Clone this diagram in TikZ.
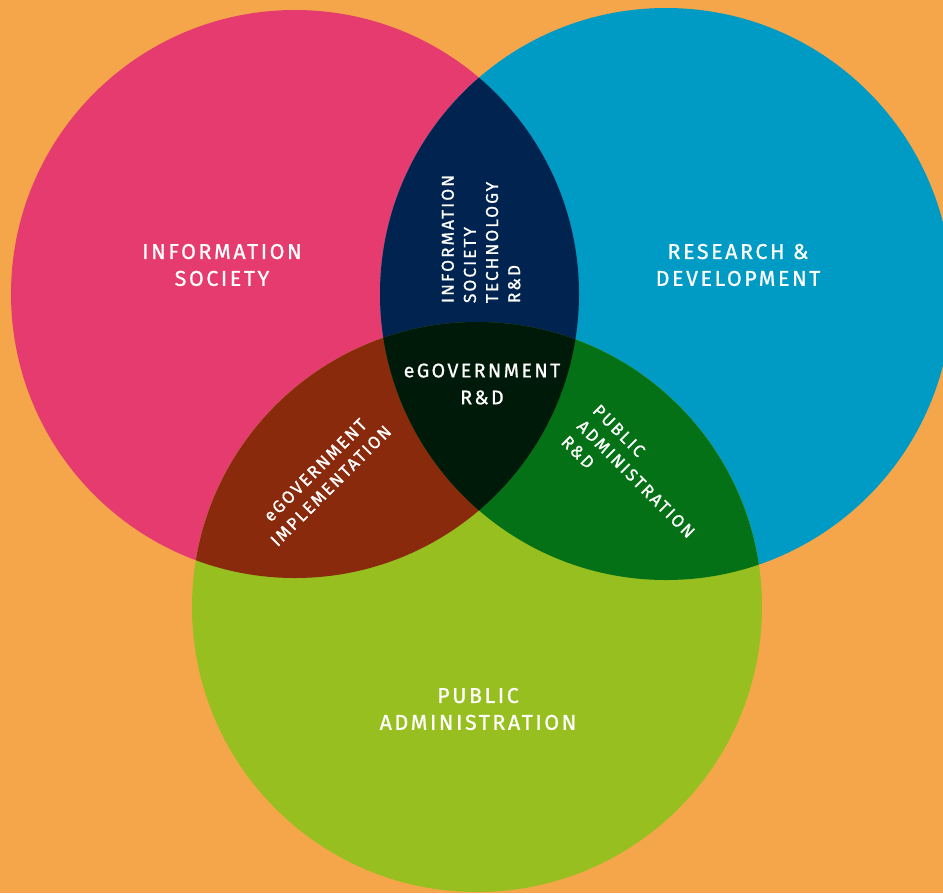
\documentclass[tikz,border=0pt]{standalone}
\usepackage{fontspec}
\usepackage{tikz}
\usepackage{xcolor}
\newfontfamily\vennfont[LetterSpace=12, FakeBold=0.9]{Fira Sans}
\definecolor{bgorange}{HTML}{F5A64A}
\definecolor{infpink}{HTML}{E63B6F}
\definecolor{resblue}{HTML}{009BC4}
\definecolor{pubgreen}{HTML}{97BF1F}
\definecolor{istnavy}{HTML}{00244F}
\definecolor{implbrown}{HTML}{8A2A0D}
\definecolor{padgreen}{HTML}{047116}
\definecolor{egovdark}{HTML}{001A0A}
\tikzset{
  lbl/.style={text=white, font=\vennfont\fontsize{12.2}{15.3}\selectfont, align=center, inner sep=0pt},
  smalllbl/.style={lbl, font=\vennfont\fontsize{9.8}{12.6}\selectfont},
}

\begin{document}
\begin{tikzpicture}[x=0.02cm, y=-0.02cm]
% Three-set Venn diagram, pixel coordinates
\fill[bgorange] (0,0) rectangle (943,893);
\useasboundingbox (0,0) rectangle (943,893);
\clip (0,0) rectangle (943,893);

\coordinate (cinf) at (295,294);
\coordinate (cres) at (666,294);
\coordinate (cpub) at (477,607);

\fill[infpink] (cinf) circle[radius=284];
\fill[resblue] (cres) circle[radius=286];
\fill[pubgreen] (cpub) circle[radius=285];

\begin{scope}
\clip (cinf) circle[radius=284];
\fill[istnavy] (cres) circle[radius=286];
\fill[implbrown] (cpub) circle[radius=285];
\end{scope}
\begin{scope}
\clip (cres) circle[radius=286];
\fill[padgreen] (cpub) circle[radius=285];
\end{scope}
\begin{scope}
\clip (cinf) circle[radius=284];
\clip (cres) circle[radius=286];
\fill[egovdark] (cpub) circle[radius=285];
\end{scope}

\node[lbl] (infsoc) at (222,265) {INFORMATION\\SOCIETY};
\node[lbl] (resdev) at (738,265) {RESEARCH \&\\DEVELOPMENT};
\node[lbl] (pubadm) at (478,709) {PUBLIC\\ADMINISTRATION};
\node[lbl, font=\vennfont\fontsize{11.2}{15.3}\selectfont] (egovrd) at (482,384) {eGOVERNMENT\\R\&D};
\node[smalllbl, align=left, rotate=90] (istrd) at (481,239) {INFORMATION\\SOCIETY\\TECHNOLOGY\\R\&D};
\node[smalllbl, rotate=45] (egovimpl) at (323,478) {eGOVERNMENT\\IMPLEMENTATION};
\node[smalllbl, align=left, rotate=-45] (padrd) at (636,479) {PUBLIC\\ADMINISTRATION\\R\&D};
\end{tikzpicture}
\end{document}
